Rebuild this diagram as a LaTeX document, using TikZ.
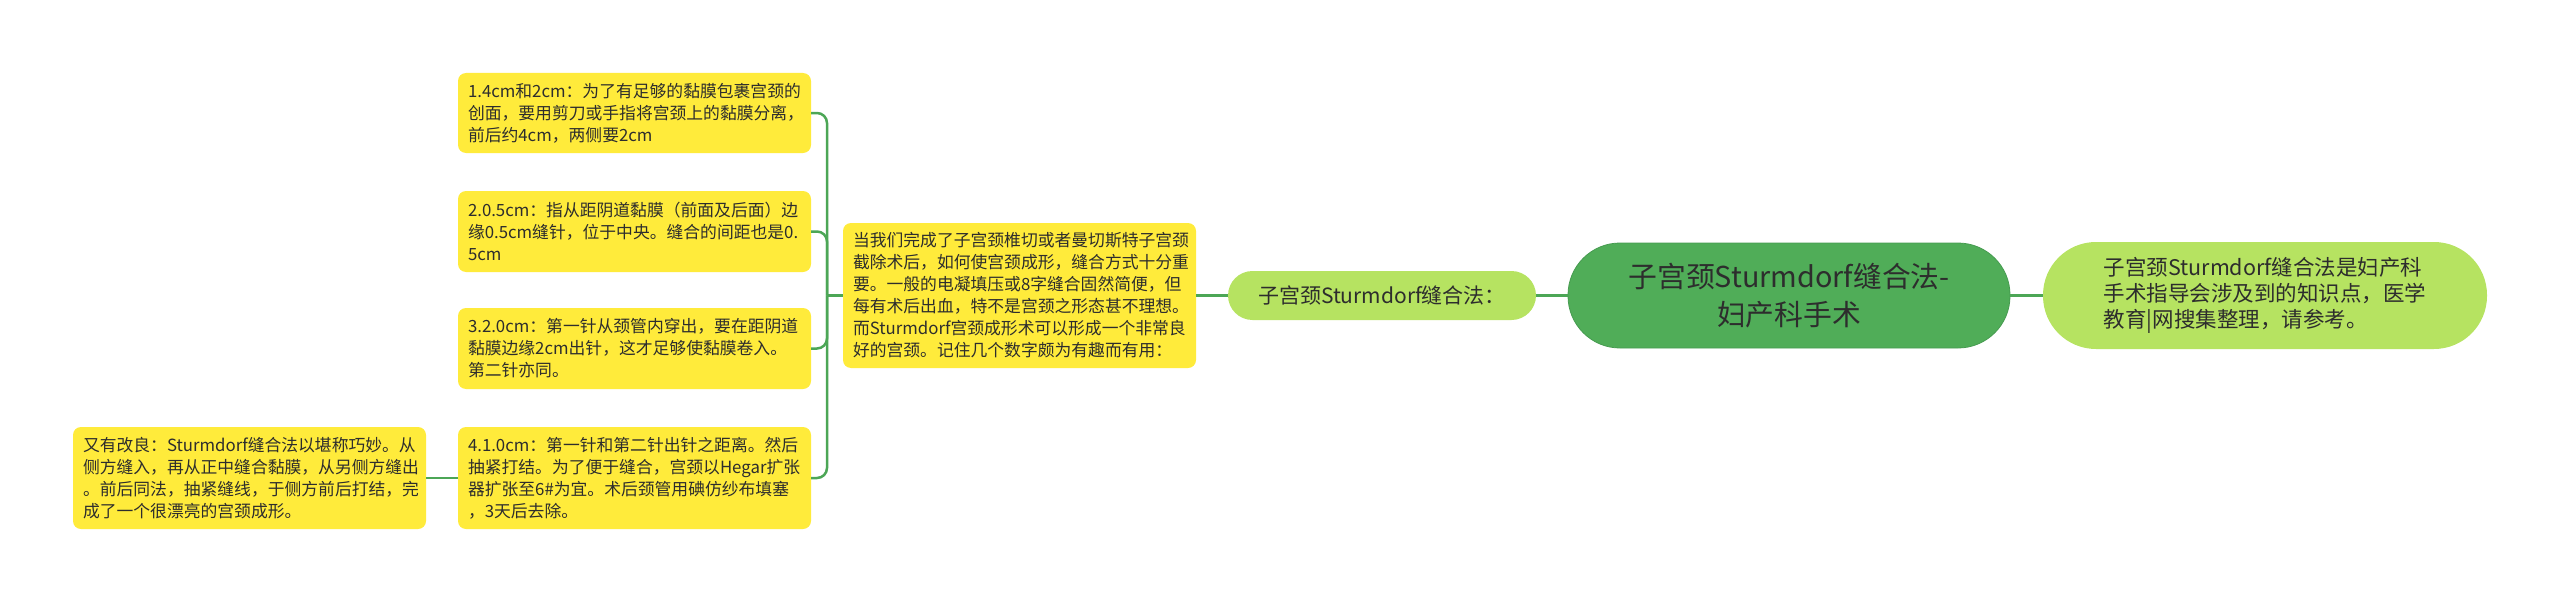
\documentclass[tikz,border=0pt]{standalone}
\usepackage{fontspec}
\setmainfont{Noto Sans CJK SC}
\definecolor{yel}{RGB}{255,235,59}
\definecolor{lgreen}{RGB}{182,227,97}
\definecolor{mgreen}{RGB}{80,173,88}
\definecolor{mborder}{RGB}{70,155,80}
\definecolor{lgr}{RGB}{76,166,86}
\definecolor{txt}{RGB}{45,45,45}
\begin{document}
\begin{tikzpicture}[x=1pt,y=-1pt,
  leaf/.style={fill=yel, rounded corners=8pt, text width=333pt, inner xsep=10pt, inner ysep=0pt,
    align=left, text=txt, font=\fontsize{16.8}{22}\selectfont},
  pill/.style={fill=lgreen, text=txt, inner sep=0pt},
  conn/.style={draw=lgr, line width=2.5pt},
]
\useasboundingbox (0,0) rectangle (2560,602);

\node[leaf, minimum height=80pt] (b1) at (634.5,113) {1.4cm和2cm：为了有足够的黏膜包裹宫颈的\\创面，要用剪刀或手指将宫颈上的黏膜分离，\\前后约4cm，两侧要2cm};
\node[leaf, minimum height=81pt] (b2) at (634.5,231.5) {2.0.5cm：指从距阴道黏膜（前面及后面）边\\缘0.5cm缝针，位于中央。缝合的间距也是0.\\5cm};
\node[leaf, minimum height=81pt] (b3) at (634.5,348.5) {3.2.0cm：第一针从颈管内穿出，要在距阴道\\黏膜边缘2cm出针，这才足够使黏膜卷入。\\第二针亦同。};
\node[leaf, minimum height=102pt] (b4) at (634.5,478) {4.1.0cm：第一针和第二针出针之距离。然后\\抽紧打结。为了便于缝合，宫颈以Hegar扩张\\器扩张至6\#为宜。术后颈管用碘仿纱布填塞\\，3天后去除。};
\node[leaf, minimum height=102pt] (b5) at (249.5,478) {又有改良：Sturmdorf缝合法以堪称巧妙。从\\侧方缝入，再从正中缝合黏膜，从另侧方缝出\\。前后同法，抽紧缝线，于侧方前后打结，完\\成了一个很漂亮的宫颈成形。};
\node[leaf, minimum height=145pt] (intro) at (1019.5,295.5) {当我们完成了子宫颈椎切或者曼切斯特子宫颈\\截除术后，如何使宫颈成形，缝合方式十分重\\要。一般的电凝填压或8字缝合固然简便，但\\每有术后出血，特不是宫颈之形态甚不理想。\\而Sturmdorf宫颈成形术可以形成一个非常良\\好的宫颈。记住几个数字颇为有趣而有用：};

\node[pill, rounded corners=24.5pt, minimum width=308pt, minimum height=49pt,
  font=\fontsize{21}{26}\selectfont] (sub) at (1382,295.5) {子宫颈Sturmdorf缝合法：};
\node[fill=mgreen, draw=mborder, line width=0.8pt, text=txt, rounded corners=52pt, inner sep=0pt,
  minimum width=442pt, minimum height=105pt, align=center,
  font=\fontsize{28.8}{38}\selectfont] (main) at (1789,295.5) {子宫颈Sturmdorf缝合法-\\妇产科手术};
\node[pill, rounded corners=53pt, minimum width=444pt, minimum height=107pt, align=left,
  font=\fontsize{21.5}{26}\selectfont] (right) at (2265,295.5) {子宫颈Sturmdorf缝合法是妇产科\\手术指导会涉及到的知识点，医学\\教育|网搜集整理，请参考。};

\coordinate (sp) at (827,295.5);
\draw[conn] (main.west) -- (sub.east);
\draw[conn] (main.east) -- (right.west);
\draw[conn] (sub.west) -- (intro.east);
\draw[conn] (intro.west) -- (sp);
\draw[conn, rounded corners=10pt] (sp) |- (b1.east);
\draw[conn, rounded corners=10pt] (sp) |- (b2.east);
\draw[conn, rounded corners=10pt] (sp) |- (b3.east);
\draw[conn, rounded corners=10pt] (sp) |- (b4.east);
\draw[conn] (b4.west) -- (b5.east);
\end{tikzpicture}
\end{document}
